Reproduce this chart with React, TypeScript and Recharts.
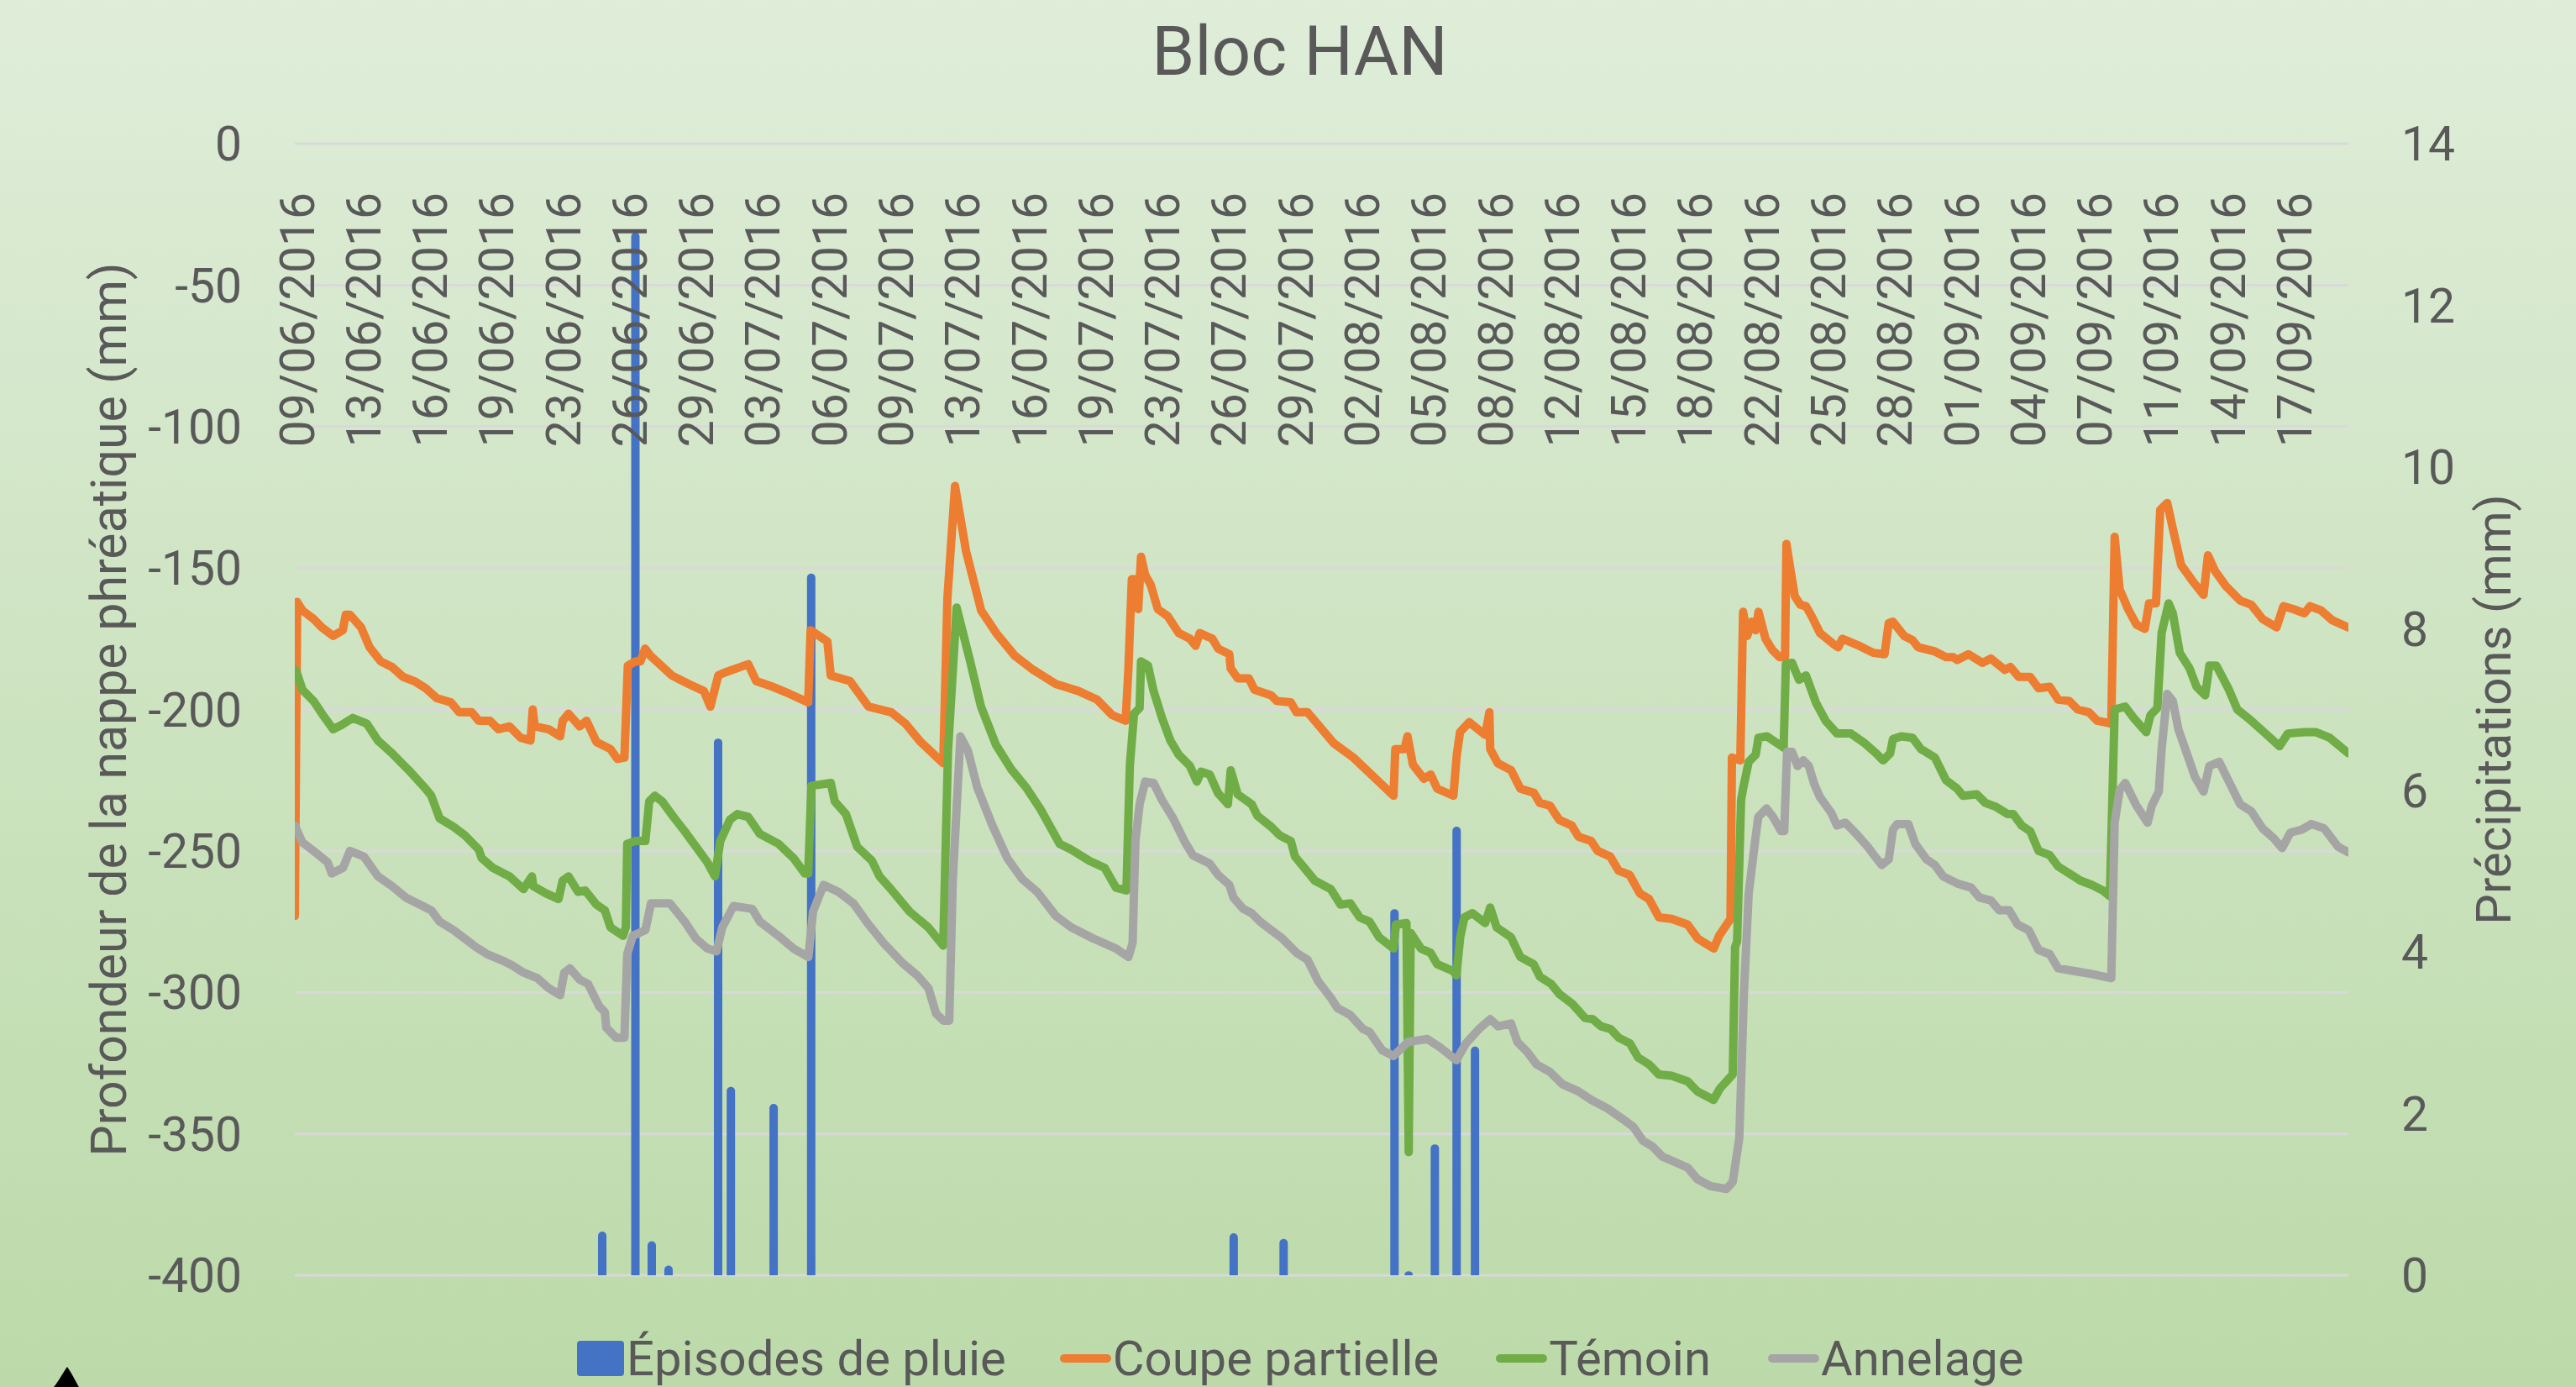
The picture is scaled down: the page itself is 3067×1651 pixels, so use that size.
import { ComposedChart, Bar, Line, XAxis, YAxis, CartesianGrid } from 'recharts'

const W = 3067
const H = 1651
const FONT = 'Roboto, "Noto Sans", sans-serif'
const TEXT = '#595959'

/* ── axes ── */
const dateLabels = [
  '09/06/2016', '13/06/2016', '16/06/2016', '19/06/2016', '23/06/2016', '26/06/2016', '29/06/2016',
  '03/07/2016', '06/07/2016', '09/07/2016', '13/07/2016', '16/07/2016', '19/07/2016', '23/07/2016',
  '26/07/2016', '29/07/2016', '02/08/2016', '05/08/2016', '08/08/2016', '12/08/2016', '15/08/2016',
  '18/08/2016', '22/08/2016', '25/08/2016', '28/08/2016', '01/09/2016', '04/09/2016', '07/09/2016',
  '11/09/2016', '14/09/2016', '17/09/2016',
]
const depthTicks = [0, -50, -100, -150, -200, -250, -300, -350, -400]
const rainTicks = [0, 2, 4, 6, 8, 10, 12, 14]

/* ── rain episodes: day since first reading, mm ── */
const rainDays = [15.39, 17.05, 17.87, 18.71, 21.19, 21.83, 23.97, 25.85, 47.0, 49.5, 55.05, 55.76, 57.07, 58.16, 59.08]
const rainMm = [0.54, 12.9, 0.42, 0.12, 6.64, 2.33, 2.12, 8.68, 0.52, 0.45, 4.53, 0.05, 1.62, 5.55, 2.83]

/* ── water table depth (mm): [day, value] ── */
const coupe: [number, number][] = [
  [0, -273], [0.12, -162], [0.38, -165], [0.94, -168], [1.35, -171], [1.92, -174], [2.4, -172], [2.55, -166.5],
  [2.76, -166.5], [3.32, -171], [3.74, -178], [4.3, -183], [4.87, -185], [5.42, -188.5], [5.98, -190], [6.55, -192.5],
  [7.1, -196], [7.81, -197.5], [8.23, -201], [8.86, -201], [9.21, -204], [9.77, -204], [10.19, -207], [10.75, -206],
  [11.31, -210], [11.8, -211], [11.91, -200], [12.01, -206], [12.71, -207], [13.28, -209.5], [13.41, -204], [13.7, -201.5],
  [14.26, -206], [14.6, -204], [15.1, -211.5], [15.8, -214], [16.15, -217.5], [16.5, -217], [16.67, -184.5], [17.06, -183],
  [17.3, -183], [17.54, -178.5], [17.8, -181], [18.88, -188], [19.72, -191], [20.48, -193.5], [20.8, -199], [21.2, -188],
  [21.5, -187], [22.7, -184], [23.1, -190], [23.93, -192], [24.77, -194.5], [25.7, -197.5], [25.82, -172], [26.24, -174],
  [26.66, -176], [26.83, -188], [27.8, -190], [28.72, -199], [29.86, -201], [30.57, -205], [31.33, -211.5], [32.46, -219],
  [32.67, -160.5], [33.05, -121], [33.6, -144], [34.36, -165], [35.11, -173], [36.04, -181], [36.96, -186], [38.1, -191],
  [39.23, -193.5], [40.16, -196.5], [40.92, -202], [41.59, -204], [41.73, -185.5], [41.9, -154], [42.08, -154], [42.22, -164.5],
  [42.36, -146], [42.57, -152.5], [42.85, -156], [43.2, -164.5], [43.69, -167], [44.25, -173], [44.81, -175], [45.09, -177.5],
  [45.3, -173], [45.93, -175], [46.22, -178.5], [46.78, -180.5], [46.85, -185.5], [47.2, -189], [47.76, -189], [48.04, -193],
  [48.88, -195], [49.16, -197], [49.86, -197.5], [50.14, -201], [50.7, -201], [52.02, -212], [52.99, -217], [53.96, -223.5],
  [55.0, -230.5], [55.09, -214], [55.55, -214], [55.7, -209.5], [55.97, -219.5], [56.52, -224.5], [56.86, -223], [57.19, -228],
  [58.0, -230.5], [58.16, -216.5], [58.33, -208], [58.79, -204.5], [59.59, -209], [59.8, -201], [59.84, -214], [60.22, -219],
  [60.89, -221.5], [61.35, -228], [62.03, -229.5], [62.32, -233], [62.83, -234], [63.29, -239], [63.92, -241], [64.26, -245],
  [64.89, -246.5], [65.22, -250], [65.85, -252], [66.27, -257], [66.82, -258.5], [67.33, -265], [67.79, -267], [68.29, -273.5],
  [68.92, -274], [69.72, -276], [70.23, -281], [71.03, -284.5], [71.3, -280], [71.87, -274], [71.94, -217], [72.36, -218],
  [72.5, -165.5], [72.71, -174], [72.92, -169], [73.13, -172], [73.27, -165.5], [73.62, -175], [73.97, -179], [74.32, -181.5],
  [74.6, -181.5], [74.67, -141.5], [74.88, -151], [75.09, -160], [75.37, -163], [75.65, -163.5], [75.93, -167], [76.35, -173],
  [77.05, -177], [77.26, -178], [77.47, -175], [78.31, -177.5], [79.02, -180], [79.58, -180.5], [79.79, -169.5], [80.0, -169],
  [80.56, -174], [80.98, -175.5], [81.26, -178], [82.1, -179.5], [82.66, -181.5], [83.01, -181.5], [83.22, -182.5], [83.78, -180.5],
  [84.48, -183.5], [84.9, -182], [85.6, -186], [85.88, -185], [86.3, -188.5], [86.87, -188.5], [87.29, -192.5], [87.85, -192],
  [88.27, -196.5], [88.83, -197], [89.25, -200], [89.81, -201], [90.23, -204], [90.93, -205], [91.1, -139], [91.35, -157.5],
  [91.77, -164.5], [92.19, -170], [92.61, -171.5], [92.82, -162.5], [93.17, -162.5], [93.38, -129.5], [93.73, -127], [94.01, -136],
  [94.43, -149], [94.99, -154.5], [95.55, -159.5], [95.77, -145.5], [96.12, -151], [96.68, -156.5], [97.38, -161.5], [97.94, -163],
  [98.5, -168], [99.2, -171], [99.55, -163.5], [100.04, -164.5], [100.6, -166], [100.88, -163.5], [101.44, -165], [102.0, -168.5],
  [102.8, -171],
]

const temoin: [number, number][] = [
  [0, -186], [0.1, -187], [0.38, -193], [0.94, -197], [1.36, -201.5], [1.92, -207], [2.34, -205.5], [2.9, -203],
  [3.6, -205], [4.16, -211], [4.87, -215.5], [5.71, -221.5], [6.55, -228], [6.83, -230.5], [7.25, -238.5], [7.95, -241.5],
  [8.51, -244.5], [9.21, -249.5], [9.35, -252.5], [9.91, -256], [10.75, -259], [11.45, -263.5], [11.87, -259], [11.94, -262.5],
  [12.57, -265], [13.2, -267], [13.41, -260.5], [13.7, -259], [14.18, -264.5], [14.54, -264], [15.1, -269], [15.52, -271],
  [15.8, -277], [16.43, -280], [16.57, -277], [16.64, -247.5], [17.06, -246.5], [17.55, -246.5], [17.74, -232.5], [18.02, -230.5],
  [18.39, -232.5], [18.96, -238], [19.51, -243], [20.08, -248.5], [20.65, -254], [21.03, -259], [21.3, -246.5], [21.78, -239],
  [22.15, -237], [22.7, -238], [23.28, -244], [24.21, -247.5], [24.96, -252.5], [25.53, -258], [25.7, -258], [25.86, -227],
  [26.83, -226], [27.03, -232.5], [27.59, -237], [28.15, -248.5], [28.89, -253.5], [29.27, -259], [29.84, -263.5], [30.78, -271.5],
  [31.71, -277], [32.46, -283.5], [32.7, -214.5], [33.13, -164], [33.79, -182.5], [34.35, -199], [35.1, -212.5], [35.85, -221],
  [36.6, -227.5], [37.35, -235.5], [38.29, -247.5], [38.86, -249.5], [39.78, -253.5], [40.54, -256], [41.11, -263], [41.63, -264],
  [41.8, -220], [42.01, -201.5], [42.29, -199.5], [42.36, -183], [42.71, -184.5], [42.99, -193.5], [43.41, -203], [43.83, -211],
  [44.25, -216], [44.81, -220], [45.16, -225.5], [45.37, -222], [45.8, -223], [46.21, -229.5], [46.71, -233.5], [46.85, -221.5],
  [47.2, -230], [47.9, -233.5], [48.18, -237.5], [48.88, -241.5], [49.3, -244.5], [49.86, -246.5], [50.07, -252], [50.42, -255],
  [51.06, -260.5], [51.86, -263.5], [52.35, -269], [52.83, -268.5], [53.31, -273.5], [53.8, -275], [54.28, -280.5], [55.0, -284.5],
  [55.12, -276], [55.65, -275.5], [55.76, -356.5], [55.86, -279], [56.37, -284.5], [56.85, -286], [57.18, -290], [57.99, -292.5],
  [58.15, -294], [58.34, -280.5], [58.55, -273.5], [58.95, -272], [59.59, -275.5], [59.84, -270], [60.16, -277], [60.88, -280.5],
  [61.35, -287.5], [62.01, -290], [62.33, -294.5], [62.89, -297], [63.29, -300.5], [63.94, -304], [64.58, -309], [64.98, -309.5],
  [65.39, -312], [65.87, -313], [66.27, -316], [66.83, -318], [67.24, -323], [67.8, -325.5], [68.28, -329], [68.92, -329.5],
  [69.73, -331.5], [70.21, -335], [71.02, -338], [71.34, -334], [71.98, -329], [72.1, -284], [72.2, -282], [72.4, -232],
  [72.5, -228], [72.78, -218.5], [73.13, -216], [73.27, -210], [73.69, -209.5], [74.11, -211.5], [74.53, -213.5], [74.64, -184],
  [74.95, -183.5], [75.3, -189.5], [75.65, -188], [76.14, -197.5], [76.63, -204], [77.2, -208.5], [77.89, -208.5], [78.6, -212],
  [79.16, -215.5], [79.51, -218], [79.86, -215.5], [80.0, -210.5], [80.42, -209.5], [80.98, -210], [81.4, -214], [82.1, -217],
  [82.66, -225], [83.22, -228], [83.5, -230.5], [84.2, -230], [84.62, -233], [85.18, -234.5], [85.74, -237], [86.02, -237],
  [86.44, -241], [86.87, -243], [87.29, -250], [87.85, -251.5], [88.27, -255.5], [88.83, -258], [89.39, -260.5], [89.95, -262],
  [90.51, -264], [90.86, -266], [91.1, -200], [91.63, -199], [92.05, -203], [92.68, -208], [92.89, -202], [93.24, -199.5],
  [93.45, -173], [93.8, -162.5], [94.01, -166], [94.36, -180], [94.85, -185.5], [95.2, -192], [95.63, -195], [95.84, -184.5],
  [96.19, -184.5], [96.82, -193], [97.24, -200], [97.94, -204], [98.65, -208.5], [99.35, -213], [99.77, -208.5], [100.6, -208],
  [101.16, -208], [101.86, -210], [102.8, -215.5],
]

const annelage: [number, number][] = [
  [0, -241], [0.38, -247], [0.94, -250], [1.64, -254], [1.85, -258], [2.41, -256], [2.76, -250], [3.46, -252],
  [4.16, -259], [4.87, -262.5], [5.56, -266.5], [6.13, -268.5], [6.83, -271], [7.25, -275], [7.95, -278], [8.51, -281],
  [9.07, -284], [9.63, -286.5], [10.47, -289], [10.89, -290.5], [11.45, -293], [12.15, -295], [12.71, -298.5], [13.28, -301],
  [13.49, -293], [13.77, -291.5], [14.26, -295.5], [14.68, -297], [15.24, -305], [15.52, -307], [15.59, -312.5], [16.08, -316],
  [16.5, -316], [16.64, -286.5], [16.92, -280], [17.55, -278], [17.83, -268.5], [18.77, -268.5], [19.52, -275], [20.08, -281],
  [20.65, -284.5], [21.11, -285.5], [21.4, -277], [21.96, -269.5], [22.9, -270.5], [23.28, -275], [24.21, -280], [24.96, -284.5],
  [25.71, -287.5], [25.94, -271.5], [26.47, -262], [27.22, -264.5], [27.96, -268.5], [28.72, -276], [29.47, -282.5], [30.4, -289.5],
  [31.16, -294], [31.72, -298.5], [32.1, -307.5], [32.47, -310], [32.76, -310], [32.94, -260], [33.32, -209.5], [33.69, -214.5],
  [34.16, -227.5], [34.92, -241], [35.66, -252.5], [36.42, -260], [37.17, -264.5], [38.1, -273], [38.86, -277], [39.98, -281],
  [41.11, -284.5], [41.73, -287.5], [41.94, -282.5], [42.08, -246.5], [42.29, -233.5], [42.57, -225.5], [42.99, -226], [43.41, -232],
  [43.97, -238.5], [44.53, -246.5], [44.95, -251.5], [45.8, -254.5], [46.22, -258.5], [46.78, -262], [46.99, -266.5], [47.48, -270.5],
  [47.9, -272], [48.32, -275], [48.88, -278], [49.44, -281], [50.14, -286], [50.7, -288.5], [51.22, -296], [51.87, -302],
  [52.19, -305.5], [52.83, -308], [53.48, -313], [53.8, -314], [54.44, -320.5], [55.0, -322.5], [55.73, -317.5], [56.7, -316.5],
  [57.34, -319.5], [58.15, -324], [58.63, -318], [59.27, -313], [59.84, -309.5], [60.24, -312], [60.88, -311], [61.2, -317.5],
  [61.69, -321], [62.17, -325.5], [62.81, -328], [63.46, -332.5], [64.26, -335], [64.9, -338], [65.71, -341], [66.52, -345],
  [67.0, -347.5], [67.49, -352.5], [67.97, -354.5], [68.45, -358], [69.09, -360], [69.73, -362], [70.21, -366], [70.86, -368.5],
  [71.67, -369.5], [71.98, -367], [72.31, -351.5], [72.54, -300.5], [72.78, -265], [73.1, -246.5], [73.26, -238], [73.67, -235],
  [74.0, -238], [74.4, -243], [74.56, -243], [74.7, -215], [74.95, -215], [75.23, -220], [75.51, -218], [75.79, -220],
  [76.07, -226.5], [76.35, -231], [76.91, -236.5], [77.2, -241], [77.62, -240], [78.17, -244], [78.73, -248.5], [79.16, -252.5],
  [79.44, -255], [79.79, -253], [80.0, -242.5], [80.21, -240.5], [80.77, -240.5], [81.12, -247.5], [81.68, -253], [82.1, -255],
  [82.52, -259], [83.22, -261.5], [83.92, -263], [84.34, -266.5], [84.9, -267.5], [85.32, -271], [85.82, -271], [86.24, -276],
  [86.8, -278], [87.29, -285], [87.85, -286.5], [88.27, -291.5], [89.11, -292.5], [89.95, -293.5], [90.93, -295], [91.1, -240],
  [91.35, -228.5], [91.63, -226], [92.19, -234], [92.75, -240], [92.96, -234], [93.31, -229], [93.45, -214], [93.73, -194.5],
  [94.01, -197], [94.29, -207], [94.71, -215.5], [95.13, -224], [95.55, -229], [95.84, -220], [96.33, -218.5], [96.82, -225.5],
  [97.38, -233.5], [97.94, -236], [98.5, -242], [99.06, -245.5], [99.48, -249], [99.9, -243.5], [100.46, -242.5], [100.95, -240.5],
  [101.58, -242], [102.28, -248.5], [102.8, -250.5],
]

const RAIN_COLOR = '#4472C4'
const lineSeries = [
  { key: 'coupe', name: 'Coupe partielle', color: '#ED7D31', points: coupe },
  { key: 'temoin', name: 'Témoin', color: '#70AD47', points: temoin },
  { key: 'annelage', name: 'Annelage', color: '#A5A5A5', points: annelage },
]

// one row per reading time, each series fills its own column
function buildRows() {
  const rows = new Map<number, any>()
  const row = (t: number) => {
    if (!rows.has(t)) rows.set(t, { t })
    return rows.get(t)
  }
  lineSeries.forEach(s => s.points.forEach(([t, v]) => { row(t)[s.key] = v }))
  rainDays.forEach((t, i) => { row(t).rain = rainMm[i] })
  return [...rows.values()].sort((a, b) => a.t - b.t)
}

const rows = buildRows()
const tickPos = dateLabels.map((_, i) => (i * 10) / 3) // a label every 20 readings (4h step)

/* ── custom pieces ── */
// readings are dense, so the band recharts gives each bar is a hairline: draw a fixed-width column on its centre
const RainBar = (props: any) => {
  const { x, y, width, height, payload } = props
  if (payload?.rain == null || !(height > 0)) return null
  const w = 10
  const left = x + width / 2 - w / 2
  const r = Math.min(w / 2, height)
  return (
    <path
      d={`M${left},${y + height} V${y + r} A${w / 2},${r} 0 0 1 ${left + w},${y + r} V${y + height} Z`}
      fill={RAIN_COLOR}
    />
  )
}

const DateTick = ({ x, y, index }: any) => (
  <text
    transform={`translate(${x + 3},${y + 58}) rotate(-90)`}
    textAnchor="end"
    dominantBaseline="central"
    fontSize={57}
    fontFamily={FONT}
    fill={TEXT}
  >
    {dateLabels[index]}
  </text>
)

const axisTitle = (text: string, dx: number, size: number) => (props: any) => {
  const vb = props.viewBox || {}
  const cx = vb.x + dx
  const cy = vb.y + vb.height / 2
  return (
    <text
      x={cx} y={cy}
      transform={`rotate(-90 ${cx} ${cy})`}
      textAnchor="middle"
      dominantBaseline="central"
      fontSize={size}
      fontFamily={FONT}
      fill={TEXT}
    >
      {text}
    </text>
  )
}

const tickStyle = { fontSize: 57, fill: TEXT, fontFamily: FONT }

export default function App() {
  return (
    <div
      style={{
        position: 'absolute', left: 0, top: 0, width: W, height: H, overflow: 'hidden',
        background: 'linear-gradient(180deg, #dfedd9 0%, #bcdaa9 100%)', fontFamily: FONT,
      }}
    >
      {/* Title */}
      <div style={{ position: 'absolute', left: 14, top: 20, width: W, textAlign: 'center', fontSize: 82, lineHeight: 1, color: TEXT }}>
        Bloc HAN
      </div>

      <div style={{ position: 'absolute', left: 0, top: 0 }}>
        <ComposedChart width={W} height={H} data={rows} margin={{ top: 0, right: 0, bottom: 133, left: 0 }}>
          <CartesianGrid yAxisId="left" vertical={false} stroke="#d9d9d9" strokeWidth={3} />
          <XAxis
            dataKey="t" type="number" domain={[0, 102.8]} ticks={tickPos} interval={0}
            orientation="top" height={171} axisLine={false} tickLine={false} tickSize={0} tickMargin={0}
            tick={<DateTick />} allowDataOverflow
          />
          <YAxis
            yAxisId="left" domain={[-400, 0]} ticks={depthTicks} interval={0} width={351}
            axisLine={false} tickLine={false} tickSize={0} tickMargin={63} tick={tickStyle}
            label={{ content: axisTitle('Profondeur de la nappe phréatique (mm)', 129, 59) }}
          />
          <YAxis
            yAxisId="right" orientation="right" domain={[0, 14]} ticks={rainTicks} interval={0} width={271}
            axisLine={false} tickLine={false} tickSize={0} tickMargin={63} tick={tickStyle}
            label={{ content: axisTitle('Précipitations (mm)', 173, 58) }}
          />

          {/* rain columns behind the depth curves */}
          <Bar yAxisId="right" dataKey="rain" barSize={10} shape={<RainBar />} fill={RAIN_COLOR} isAnimationActive={false} />

          {lineSeries.map(s => (
            <Line
              key={s.key} yAxisId="left" type="linear" dataKey={s.key} stroke={s.color} strokeWidth={10}
              strokeLinejoin="round" strokeLinecap="round" dot={false} activeDot={false} connectNulls
              isAnimationActive={false}
            />
          ))}
        </ComposedChart>
      </div>

      {/* Legend */}
      <div style={{ position: 'absolute', left: 687, top: 1588, height: 58, display: 'flex', alignItems: 'center', fontSize: 58, lineHeight: '58px', color: TEXT, whiteSpace: 'nowrap' }}>
        <div style={{ width: 56, height: 42, background: RAIN_COLOR, borderRadius: 4, marginRight: 3 }} />
        <span style={{ marginRight: 64 }}>Épisodes de pluie</span>
        {lineSeries.map((s, i) => (
          <div key={s.key} style={{ display: 'flex', alignItems: 'center', marginRight: i < lineSeries.length - 1 ? 68 : 0 }}>
            <div style={{ width: 61, height: 10, background: s.color, borderRadius: 5, marginRight: 2 }} />
            <span>{s.name}</span>
          </div>
        ))}
      </div>

      {/* stray black mark at bottom-left of the original picture */}
      <svg style={{ position: 'absolute', left: 60, top: 1622 }} width={40} height={29}>
        <path d="M20,5 C24,10 30,22 34,29 L4,29 C10,22 16,10 20,5 Z" fill="#000" />
      </svg>
    </div>
  )
}
